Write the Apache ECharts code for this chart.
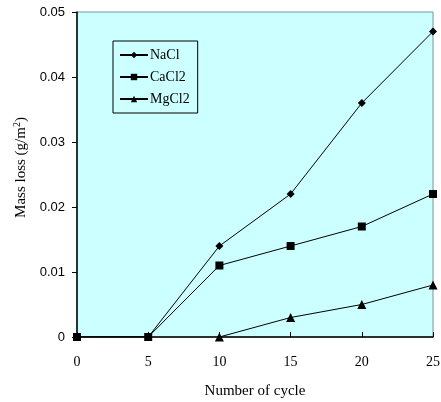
<!DOCTYPE html>
<html>
<head>
<meta charset="utf-8">
<script src="https://cdn.jsdelivr.net/npm/echarts@6/dist/echarts.min.js"></script>
<style>
html, body { margin: 0; padding: 0; background: #fff; }
#chart { width: 441px; height: 402px; }
</style>
</head>
<body>
<div id="chart"></div>
<script>
// data
const cycles = [0, 5, 10, 15, 20, 25];
const naclLoss = [0, 0, 0.014, 0.022, 0.036, 0.047];
const cacl2Loss = [0, 0, 0.011, 0.014, 0.017, 0.022];
const mgcl2Loss = [null, null, 0, 0.003, 0.005, 0.008];
const yTicks = [0, 0.01, 0.02, 0.03, 0.04, 0.05];

const chart = echarts.init(document.getElementById('chart'));

const pair = (vals) => cycles.map((c, i) => [c, vals[i]]);

const mkSeries = (name, vals, symbol, size) => ({
    name: name,
    type: 'line',
    data: pair(vals),
    symbol: symbol,
    symbolSize: size,
    showAllSymbol: true,
    connectNulls: false,
    lineStyle: { color: '#000', width: 1 },
    itemStyle: { color: '#000' },
    emphasis: { disabled: true },
    z: 3
});

const option = {
    animation: false,
    grid: {
        left: 77, top: 12, right: 8, bottom: 65,
        outerBoundsMode: 'none',
        containLabel: false,
        show: true,
        backgroundColor: '#ccffff',
        borderColor: '#6f9a9a',
        borderWidth: 1
    },
    legend: {
        orient: 'vertical',
        left: 113, top: 41,
        width: 85,
        padding: [7, 8, 7, 6],
        itemGap: 8,
        itemWidth: 28, itemHeight: 8,
        borderColor: '#000', borderWidth: 1,
        backgroundColor: 'transparent',
        textStyle: { fontFamily: 'Liberation Serif', fontSize: 14, color: '#000', padding: [0, 0, 0, -3] },
        data: ['NaCl', 'CaCl2', 'MgCl2']
    },
    xAxis: {
        type: 'value',
        min: 0, max: 25, interval: 5,
        name: 'Number of cycle',
        nameLocation: 'middle',
        nameGap: 47,
        nameTextStyle: { fontFamily: 'Liberation Serif', fontSize: 15, color: '#000' },
        axisLine: { onZero: false, lineStyle: { color: '#000', width: 1.5 } },
        axisTick: { inside: true, length: 5, lineStyle: { color: '#000' } },
        axisLabel: { fontFamily: 'Liberation Serif', fontSize: 14, color: '#000', margin: 18 },
        splitLine: { show: false }
    },
    yAxis: {
        type: 'value',
        min: 0, max: 0.05, interval: 0.01,
        name: 'Mass loss (g/m{sup|2})',
        nameLocation: 'middle',
        nameRotate: 90,
        nameGap: 47,
        nameTextStyle: {
            fontFamily: 'Liberation Serif', fontSize: 15, color: '#000',
            padding: [0, 0, 0, 14],
            rich: { sup: { fontFamily: 'Liberation Serif', fontSize: 10, verticalAlign: 'top', padding: [0, 0, 8, 0] } }
        },
        axisLine: { show: true, lineStyle: { color: '#000', width: 1.5 } },
        axisTick: { show: true, length: 5, lineStyle: { color: '#000' } },
        axisLabel: {
            fontFamily: 'Liberation Sans', fontSize: 13, color: '#000', margin: 12,
            formatter: (v) => yTicks.includes(+v.toFixed(2)) ? (v === 0 ? '0' : v.toFixed(2)) : ''
        },
        splitLine: { show: false }
    },
    series: [
        mkSeries('NaCl', naclLoss, 'diamond', 8),
        mkSeries('CaCl2', cacl2Loss, 'rect', 8),
        mkSeries('MgCl2', mgcl2Loss, 'triangle', 9)
    ]
};

chart.setOption(option);
</script>
</body>
</html>
